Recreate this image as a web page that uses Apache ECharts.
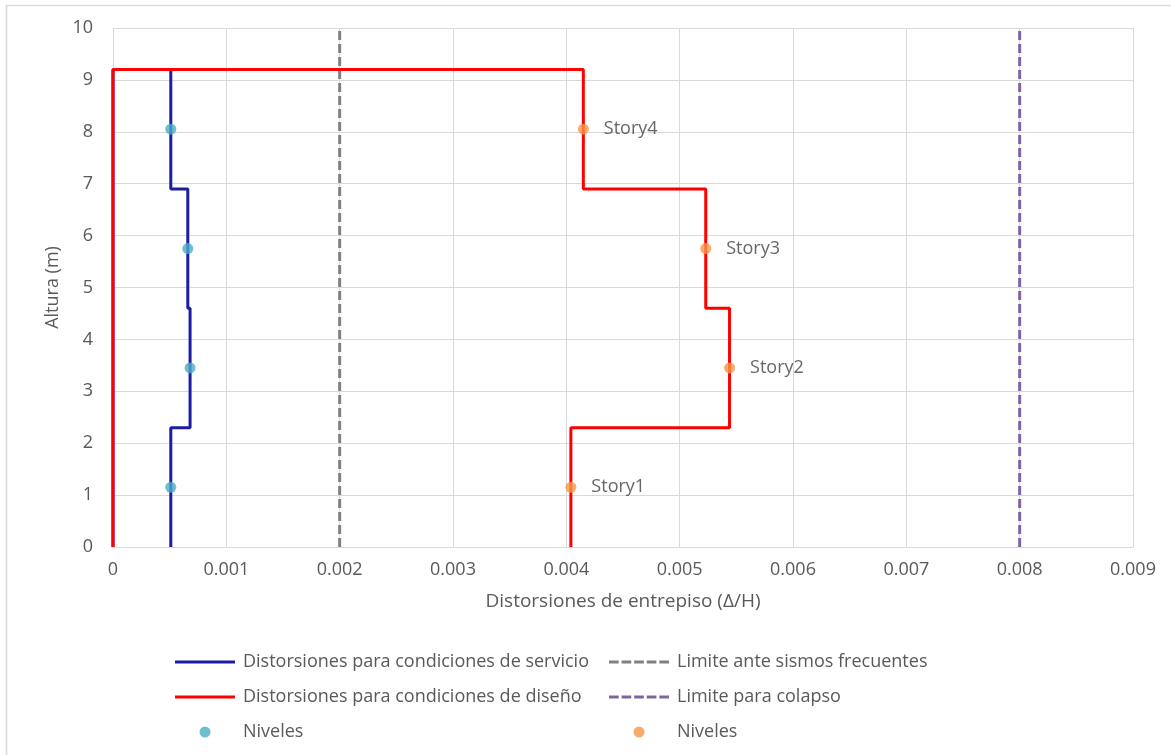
<!DOCTYPE html>
<html><head><meta charset="utf-8">
<script src="https://cdn.jsdelivr.net/npm/echarts@6/dist/echarts.min.js"></script>
<style>html,body{margin:0;padding:0;background:#fff}#c{width:1171px;height:755px}</style>
</head><body><div id="c"></div>
<script>
// Step profiles (x = drift, y = height)
const servicioX = [0.00051, 0.00051, 0.00068, 0.00068, 0.00066, 0.00066, 0.00051, 0.00051, 0, 0];
const servicioY = [0, 2.3, 2.3, 4.6, 4.6, 6.9, 6.9, 9.2, 9.2, 0];
const disenoX = [0.00404, 0.00404, 0.00544, 0.00544, 0.00523, 0.00523, 0.00415, 0.00415, 0, 0];
const disenoY = [0, 2.3, 2.3, 4.6, 4.6, 6.9, 6.9, 9.2, 9.2, 0];
const nivelHeights = [1.15, 3.45, 5.75, 8.05];
const nivelServicioX = [0.00051, 0.00068, 0.00066, 0.00051];
const nivelDisenoX = [0.00404, 0.00544, 0.00523, 0.00415];
const storyLabels = ['Story1', 'Story2', 'Story3', 'Story4'];
const limiteFrecuente = 0.002;
const limiteColapso = 0.008;
const yRange = [0, 10];

const zip = (xs, ys) => xs.map((x, i) => [x, ys[i]]);
const FONT = '"Open Sans", "Liberation Sans", sans-serif';
const SOLID_ICON = 'path://M0,0h60v3h-60z';
const DASH_ICON = 'path://M0,0h10v3h-10z M13,0h10v3h-10z M26,0h10v3h-10z M39,0h10v3h-10z M52,0h10v3h-10z';

const chart = echarts.init(document.getElementById('c'), null, {renderer: 'canvas'});
const legendCommon = {
  orient: 'vertical', top: 647, itemGap: 15, itemWidth: 60, itemHeight: 11,
  itemStyle: {borderWidth: 0},
  textStyle: {fontFamily: FONT, fontSize: 18, color: '#595959', lineHeight: 20, padding: [0, 0, 0, 3]}
};
chart.setOption({
  animation: false,
  backgroundColor: '#fff',
  graphic: [{type: 'rect', shape: {x: 6.5, y: 5.5, width: 1180, height: 770}, style: {fill: 'none', stroke: '#d9d9d9', lineWidth: 1.5}, silent: true}],
  grid: {left: 113, right: 38, top: 28, bottom: 208},
  xAxis: {
    type: 'value', min: 0, max: 0.009, interval: 0.001,
    name: 'Distorsiones de entrepiso (Δ/H)', nameLocation: 'middle', nameGap: 45,
    nameTextStyle: {fontFamily: FONT, fontSize: 19, color: '#595959'},
    axisLine: {show: true, lineStyle: {color: '#d9d9d9', width: 1}},
    axisTick: {show: false},
    axisLabel: {fontFamily: FONT, fontSize: 18, color: '#595959', margin: 14, formatter: v => String(+v.toFixed(3))},
    splitLine: {show: true, lineStyle: {color: '#d9d9d9', width: 1}}
  },
  yAxis: {
    type: 'value', min: yRange[0], max: yRange[1], interval: 1,
    name: 'Altura (m)', nameLocation: 'middle', nameGap: 51, nameRotate: 90,
    nameTextStyle: {fontFamily: FONT, fontSize: 18, color: '#595959'},
    axisLine: {show: true, lineStyle: {color: '#d9d9d9', width: 1}},
    axisTick: {show: false},
    axisLabel: {fontFamily: FONT, fontSize: 18, color: '#595959', margin: 20},
    splitLine: {show: true, lineStyle: {color: '#d9d9d9', width: 1}}
  },
  legend: [Object.assign({}, legendCommon, {
    left: 170,
    data: [
      {name: 'Distorsiones para condiciones de servicio', icon: SOLID_ICON},
      {name: 'Distorsiones para condiciones de diseño', icon: SOLID_ICON},
      {name: 'Niveles', icon: 'circle'}
    ]
  }), Object.assign({}, legendCommon, {
    left: 604,
    data: [
      {name: 'Limite ante sismos frecuentes', icon: DASH_ICON},
      {name: 'Limite para colapso', icon: DASH_ICON},
      {name: 'Niveles ', icon: 'circle'}
    ]
  })],
  series: [
    {name: 'Distorsiones para condiciones de servicio', type: 'line', data: zip(servicioX, servicioY), symbol: 'none', lineStyle: {color: '#1c1ca3', width: 3}, itemStyle: {color: '#1c1ca3'}, z: 3},
    {name: 'Distorsiones para condiciones de diseño', type: 'line', data: zip(disenoX, disenoY), symbol: 'none', lineStyle: {color: '#ff0000', width: 3}, itemStyle: {color: '#ff0000'}, z: 4},
    {name: 'Limite ante sismos frecuentes', type: 'line', data: [[limiteFrecuente, yRange[0]], [limiteFrecuente, yRange[1]]], symbol: 'none', lineStyle: {color: '#808080', width: 3, type: [9, 4]}, itemStyle: {color: '#808080'}, z: 2},
    {name: 'Limite para colapso', type: 'line', data: [[limiteColapso, yRange[0]], [limiteColapso, yRange[1]]], symbol: 'none', lineStyle: {color: '#8064a2', width: 3, type: [9, 4]}, itemStyle: {color: '#8064a2'}, z: 2},
    {name: 'Niveles', type: 'scatter', data: zip(nivelServicioX, nivelHeights), symbol: 'circle', symbolSize: 11, itemStyle: {color: '#4bacc6'}, z: 5},
    {name: 'Niveles ', type: 'scatter', data: zip(nivelDisenoX, nivelHeights), symbol: 'circle', symbolSize: 11, itemStyle: {color: '#f79646'}, z: 5,
      label: {show: true, position: 'right', distance: 15, fontFamily: FONT, fontSize: 18, color: '#404040', formatter: p => storyLabels[p.dataIndex]}}
  ]
});
</script>
</body></html>
